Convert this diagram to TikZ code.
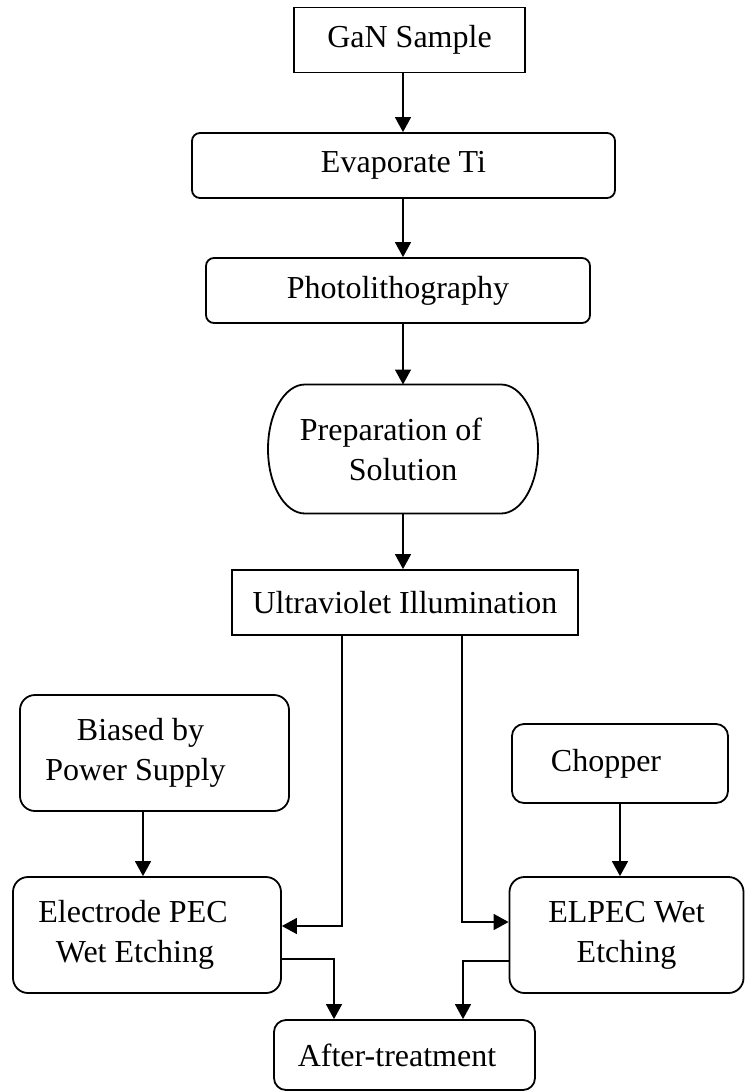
\documentclass[tikz,border=0pt]{standalone}
\usepackage{fontspec}
\setmainfont{Liberation Serif}
\usetikzlibrary{arrows.meta}
\newcommand{\tailpad}[1]{\rule{#1}{0pt}}

\begin{document}
\begin{tikzpicture}[x=0.5pt,y=-0.5pt,
	every node/.style={font=\fontsize{16}{20}\selectfont},
	box/.style={draw,line width=0.9pt,align=center,inner sep=0pt},
	rbox/.style={box,rounded corners=4pt},
	tallbox/.style={box,rounded corners=7.5pt},
	flow/.style={line width=0.75pt,-{Triangle[length=7.5pt,width=8pt]}}]
	\useasboundingbox (0,0) rectangle (745,1092);
	% main column
	\node[box,minimum width=115.5pt,minimum height=32.5pt] (gan) at (409.5,40) {GaN Sample};
	\node[rbox,minimum width=211.5pt,minimum height=32.5pt] (evap) at (403.5,165.5) {Evaporate Ti};
	\node[rbox,minimum width=192pt,minimum height=32.5pt] (photo) at (398,290.5) {Photolithography};
	\node[box,draw=none,outer sep=0pt,minimum width=135pt,minimum height=64.5pt] (prep) at (403,449) {Preparation of\tailpad{12pt}\\Solution};
	\draw[line width=0.9pt] ([xshift=18.5pt]prep.north west) -- ([xshift=-18.5pt]prep.north east)
		arc[start angle=90,end angle=-90,x radius=18.5pt,y radius=32.25pt]
		-- ([xshift=18.5pt]prep.south west)
		arc[start angle=270,end angle=90,x radius=18.5pt,y radius=32.25pt] -- cycle;
	\node[box,minimum width=173pt,minimum height=32.5pt] (uv) at (405,602.5) {Ultraviolet Illumination};
	% side branches
	\node[tallbox,minimum width=134.5pt,minimum height=58pt] (bias) at (154.5,753) {Biased by\tailpad{14pt}\\Power Supply\tailpad{19pt}};
	\node[box,rounded corners=6pt,minimum width=108pt,minimum height=39.5pt] (chop) at (620,763.5) {Chopper\tailpad{14pt}};
	\node[tallbox,minimum width=134pt,minimum height=58pt] (elec) at (147,935) {Electrode PEC\tailpad{14pt}\\Wet Etching\tailpad{12pt}};
	\node[tallbox,minimum width=117pt,minimum height=58pt] (elp) at (626.5,935) {ELPEC Wet\\Etching};
	\node[box,rounded corners=6pt,minimum width=130.5pt,minimum height=35pt] (after) at (404.5,1055) {After-treatment\tailpad{7.5pt}};

	\coordinate (axis) at (403,0);
	\draw[flow] (axis |- gan.south) -- (axis |- evap.north);
	\draw[flow] (axis |- evap.south) -- (axis |- photo.north);
	\draw[flow] (axis |- photo.south) -- (axis |- prep.north);
	\draw[flow] (axis |- prep.south) -- (axis |- uv.north);

	\coordinate (lft) at (342,926);
	\coordinate (rgt) at (462,922);
	\draw[flow] (uv.south -| lft) -- (lft) -- (lft -| elec.east);
	\draw[flow] (uv.south -| rgt) -- (rgt) -- (rgt -| elp.west);

	\coordinate (bx) at (143,0);
	\coordinate (cx) at (620,0);
	\draw[flow] (bias.south -| bx) -- (bx |- elec.north);
	\draw[flow] (chop.south -| cx) -- (cx |- elp.north);

	\coordinate (lo) at (334,959);
	\coordinate (ro) at (463,961);
	\draw[flow] (elec.east |- lo) -- (lo) -- (lo |- after.north);
	\draw[flow] (elp.west |- ro) -- (ro) -- (ro |- after.north);
\end{tikzpicture}
\end{document}
